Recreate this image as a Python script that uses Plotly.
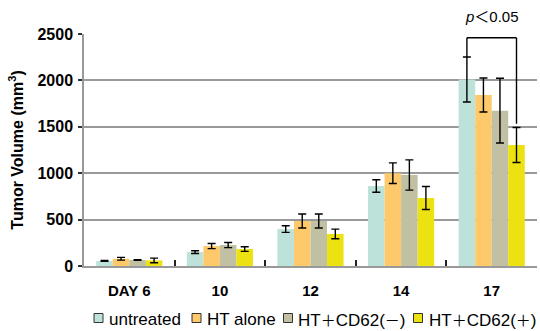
import plotly.graph_objects as go

# Tumor volume (mm^3) by day, mean and error per treatment group
days = ["DAY 6", "10", "12", "14", "17"]
series_names = ["untreated", "HT alone", "HT＋CD62(－)", "HT＋CD62(＋)"]
untreated = [55, 150, 398, 862, 2010]
untreated_err = [4, 15, 36, 68, 242]
ht_alone = [78, 215, 485, 1000, 1843]
ht_alone_err = [15, 28, 75, 111, 183]
cd62_neg = [65, 226, 485, 981, 1674]
cd62_neg_err = [4, 28, 75, 163, 349]
cd62_pos = [60, 183, 345, 733, 1304]
cd62_pos_err = [25, 25, 52, 124, 189]
y_ticks = [0, 500, 1000, 1500, 2000, 2500]
sig_label = "<i>p</i>＜0.05"

colors = ["#bce2da", "#fdc96b", "#c1c0a2", "#ece212"]
values = [untreated, ht_alone, cd62_neg, cd62_pos]
errors = [untreated_err, ht_alone_err, cd62_neg_err, cd62_pos_err]

FONT = "Liberation Sans, Arial, Noto Sans CJK JP, sans-serif"
BARGAP = 0.27

fig = go.Figure()
for name, col, v, e in zip(series_names, colors, values, errors):
    fig.add_trace(go.Bar(
        x=days, y=v, name=name, showlegend=False,
        marker=dict(color=col, line=dict(width=0)),
        error_y=dict(type="data", array=e, visible=True,
                     color="black", thickness=1.4, width=4),
    ))

# significance bracket between untreated and HT+CD62(+) on the last day
n = len(series_names)
bar_w = (1 - BARGAP) / n
last = len(days) - 1
x_left = last - (1 - BARGAP) / 2 + 0.5 * bar_w
x_right = last - (1 - BARGAP) / 2 + (n - 0.5) * bar_w
top_left = untreated[last] + untreated_err[last]
top_right = cd62_pos[last] + cd62_pos_err[last] + 40
bracket_y = 2460
line_style = dict(color="black", width=1.4)
fig.add_shape(type="line", xref="x", yref="y", x0=x_left, x1=x_left,
              y0=top_left, y1=bracket_y, line=line_style)
fig.add_shape(type="line", xref="x", yref="y", x0=x_left, x1=x_right,
              y0=bracket_y, y1=bracket_y, line=line_style)
fig.add_shape(type="line", xref="x", yref="y", x0=x_right, x1=x_right,
              y0=top_right, y1=bracket_y, line=line_style)
fig.add_annotation(x=(x_left + x_right) / 2, xref="x", y=1.075, yref="paper",
                   text=sig_label, showarrow=False, xanchor="center",
                   yanchor="middle", font=dict(family=FONT, size=15, color="black"))


def legend_markup(label):
    # full-width signs set a little smaller so the labels keep their width
    for ch in "＋－":
        label = label.replace(
            ch, f'<span style="font-size:15px;font-family:Noto Sans CJK JP">{ch}</span>')
    return label


# legend row drawn as swatches + labels below the axis
legend_swatch_px = [98.5, 196.5, 288, 418]
legend_text_px = [107, 205, 296, 427]
L, W, T, H = 84, 453, 34, 232
legend_cy = 318
for name, col, sx, tx in zip(series_names, colors, legend_swatch_px, legend_text_px):
    fig.add_shape(type="rect", xref="paper", yref="paper",
                  xsizemode="pixel", ysizemode="pixel",
                  xanchor=(sx - L) / W, yanchor=(T + H - legend_cy) / H,
                  x0=-4.5, x1=4.5, y0=-4.5, y1=4.5,
                  fillcolor=col, line=dict(color="#333333", width=1))
    fig.add_annotation(x=(tx - L) / W, xref="paper", y=(T + H - legend_cy - 1) / H,
                       yref="paper", text=legend_markup(name), showarrow=False,
                       xanchor="left", yanchor="middle",
                       font=dict(family=FONT, size=17, color="black"))

fig.update_layout(
    width=540, height=331,
    margin=dict(l=L, r=540 - L - W, t=T, b=331 - T - H, autoexpand=False),
    paper_bgcolor="white", plot_bgcolor="white",
    barmode="group", bargap=BARGAP, bargroupgap=0,
    showlegend=False,
    font=dict(family=FONT, color="black"),
)
fig.update_xaxes(
    type="category", showline=True, linecolor="#999999", linewidth=1.5,
    ticks="inside", tickson="boundaries", ticklen=6, tickwidth=1.5,
    tickcolor="#222222", showgrid=False, ticklabelstandoff=10,
    tickfont=dict(family=FONT, size=15, color="black", weight="bold"),
)
fig.update_yaxes(
    range=[0, 2500], tickvals=y_ticks, showline=True, linecolor="#999999",
    linewidth=1.5, ticks="outside", ticklen=4, tickwidth=1.5,
    tickcolor="#333333", showgrid=True, gridcolor="#999999", gridwidth=1.5,
    zeroline=False, ticklabelstandoff=2,
    tickfont=dict(family=FONT, size=16, color="black", weight="bold"),
    title=dict(text="Tumor Volume (mm<sup>3</sup>)", standoff=10,
               font=dict(family=FONT, size=16, color="black", weight="bold")),
)

fig.write_html("out.html")
